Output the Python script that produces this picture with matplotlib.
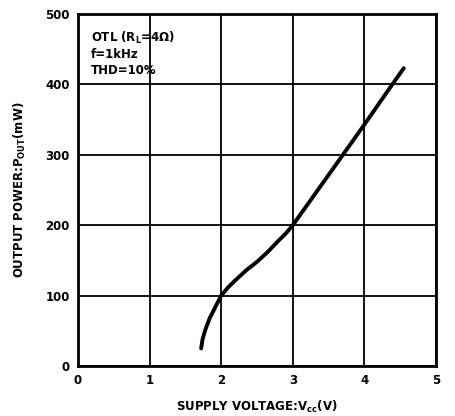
import matplotlib
matplotlib.use("Agg")
import matplotlib.pyplot as plt

# Supply voltage (V) vs output power (mW)
vcc = [1.72, 1.74, 1.78, 1.84, 1.9, 1.95, 2.0, 2.1, 2.2, 2.35, 2.5, 2.65, 2.8, 2.9,
       3.0, 3.35, 3.7, 4.0, 4.39, 4.55]
pout = [25, 38, 52, 68, 80, 90, 100, 112, 122, 136, 148, 162, 178, 188,
        200, 250, 300, 343, 400, 423]

x_ticks = [0, 1, 2, 3, 4, 5]
y_ticks = [0, 100, 200, 300, 400, 500]

plt.rcParams['font.family'] = ['DejaVu Sans']
plt.rcParams['font.weight'] = 'bold'
plt.rcParams['mathtext.default'] = 'bf'

fig = plt.figure(figsize=(4.55, 4.16), dpi=100)
ax = fig.add_axes([0.1714, 0.1202, 0.7868, 0.8461])

ax.plot(vcc, pout, color='black', linewidth=2.8, solid_capstyle='round',
        solid_joinstyle='round')

ax.set_xlim(0, 5)
ax.set_ylim(0, 500)
ax.set_xticks(x_ticks)
ax.set_yticks(y_ticks)
ax.tick_params(length=0, labelsize=8.5, pad=6)
for lab in ax.get_xticklabels() + ax.get_yticklabels():
    lab.set_fontweight('bold')

ax.grid(True, color='black', linewidth=1.3)
for s in ax.spines.values():
    s.set_linewidth(2)

ax.set_xlabel('SUPPLY VOLTAGE:V$_{cc}$(V)', fontsize=8.5, fontweight='bold', labelpad=8)
ax.set_ylabel('OUTPUT POWER:P$_{OUT}$(mW)', fontsize=8.5, fontweight='bold', labelpad=12)

# condition notes in the upper left corner
ax.text(0.035, 0.955, 'OTL (R$_{L}$=4\u03a9)\nf=1kHz\nTHD=10%', transform=ax.transAxes,
        fontsize=8.5, fontweight='bold', va='top', ha='left', linespacing=1.25)

fig.savefig('out.png', dpi=100, facecolor='white')
